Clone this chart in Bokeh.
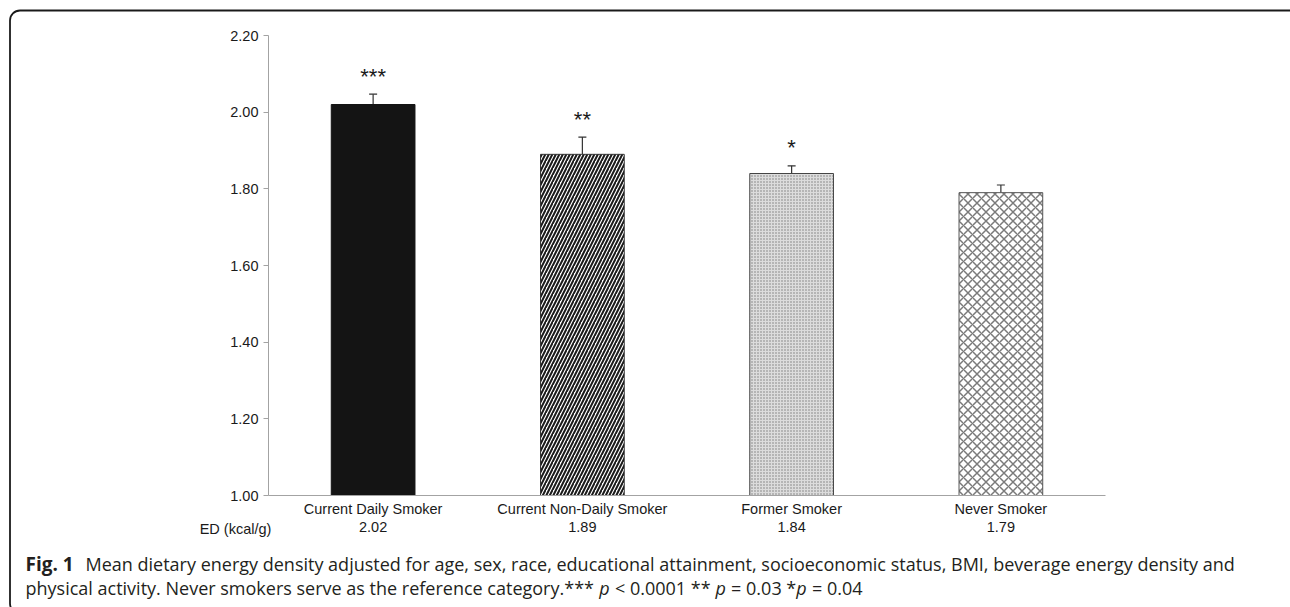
from bokeh.plotting import figure
from bokeh.models import (Range1d, FixedTicker, PrintfTickFormatter, LinearAxis,
                          ColumnDataSource, Whisker, TeeHead, Label, BoxAnnotation)
from bokeh.core.properties import value
from bokeh.embed import file_html
from bokeh.resources import INLINE

# ---------------- data ----------------
categories = ["Current Daily Smoker", "Current Non-Daily Smoker", "Former Smoker", "Never Smoker"]
ed_values = [2.02, 1.89, 1.84, 1.79]
se_values = [0.027, 0.045, 0.020, 0.020]
stars = ["***", "**", "*", ""]
y_ticks = [1.00, 1.20, 1.40, 1.60, 1.80, 2.00, 2.20]
row_title = "ED (kcal/g)"
caption_bold = "Fig. 1"
caption_line1 = ("Mean dietary energy density adjusted for age, sex, race, educational attainment, "
                 "socioeconomic status, BMI, beverage energy density and")
caption_line2 = [("physical activity. Never smokers serve as the reference category.***", "normal"),
                 ("p", "italic"), ("< 0.0001 **", "normal"), ("p", "italic"),
                 ("= 0.03 *", "normal"), ("p", "italic"), ("= 0.04", "normal")]
caption_gaps = [True, True, True, True, False, True]  # space before next segment

# ---------------- layout (page px) ----------------
W, H = 1290, 607
FL, FR, FT, FB = 268, 1105, 35, 495   # chart area edges in page px
Y0, Y1 = y_ticks[0], y_ticks[-1]
N = len(categories)
x_pos = [i + 0.5 for i in range(N)]

def xd(px):
    return (px - FL) / (FR - FL) * N

def yd(py):
    return Y0 + (FB - py) / (FB - FT) * (Y1 - Y0)

px_per_unit = (FB - FT) / (Y1 - Y0)

p = figure(width=W, height=H, output_backend="svg", toolbar_location=None,
           x_range=Range1d(xd(0), xd(W)), y_range=Range1d(yd(H), yd(0)),
           x_axis_location=None, y_axis_location=None, min_border=0)
p.outline_line_color = None
p.grid.visible = False
p.background_fill_color = "white"
p.border_fill_color = "white"

chart_font = "Liberation Sans"
axis_gray = "#a3a3a3"
text_col = "#1a1a1a"

# y axis
ya = LinearAxis(fixed_location=0, bounds=(Y0, Y1), ticker=FixedTicker(ticks=y_ticks),
                formatter=PrintfTickFormatter(format="%.2f"))
ya.axis_line_color = axis_gray
ya.major_tick_line_color = axis_gray
ya.major_tick_out = 5
ya.major_tick_in = 0
ya.minor_tick_line_color = None
ya.major_label_text_font = chart_font
ya.major_label_text_font_size = "14.5px"
ya.major_label_text_color = text_col
ya.major_label_standoff = 5
p.add_layout(ya, "left")

# x axis (categories)
xa = LinearAxis(fixed_location=Y0, bounds=(0, N), ticker=FixedTicker(ticks=x_pos),
                major_label_overrides={x: c for x, c in zip(x_pos, categories)})
xa.axis_line_color = axis_gray
xa.major_tick_line_color = None
xa.minor_tick_line_color = None
xa.major_tick_out = 0
xa.major_tick_in = 0
xa.major_label_text_font = chart_font
xa.major_label_text_font_size = "14.5px"
xa.major_label_text_color = text_col
xa.major_label_standoff = 5
p.add_layout(xa, "below")

# second row: ED values
ed_labels = [f"{v:.2f}" for v in ed_values]
xa2 = LinearAxis(fixed_location=Y0, bounds=(0, N), ticker=FixedTicker(ticks=x_pos),
                 major_label_overrides={x: t for x, t in zip(x_pos, ed_labels)})
xa2.axis_line_color = None
xa2.major_tick_line_color = None
xa2.minor_tick_line_color = None
xa2.major_tick_out = 0
xa2.major_tick_in = 0
xa2.major_label_text_font = chart_font
xa2.major_label_text_font_size = "14.5px"
xa2.major_label_text_color = text_col
xa2.major_label_standoff = 26
p.add_layout(xa2, "below")

# bars
bar_styles = [
    dict(fill_color="#141414", line_color="#141414", hatch_pattern=None),
    dict(fill_color="white", line_color="#333333", hatch_pattern="/", hatch_color="#1a1a1a",
         hatch_scale=7, hatch_weight=2.0),
    dict(fill_color="#dcdcdc", line_color="#444444", hatch_pattern="dot", hatch_color="#7a7a7a",
         hatch_scale=3, hatch_weight=1.0),
    dict(fill_color="white", line_color="#555555", hatch_pattern="x", hatch_color="#7a7a7a",
         hatch_scale=9, hatch_weight=1.5),
]
for xp, v, st in zip(x_pos, ed_values, bar_styles):
    p.vbar(x=[xp], top=[v], bottom=Y0, width=0.4, line_width=1, **st)

# error bars
upper = [v + e for v, e in zip(ed_values, se_values)]
src = ColumnDataSource(dict(x=x_pos, lower=ed_values, upper=upper))
p.add_layout(Whisker(source=src, base="x", lower="lower", upper="upper", dimension="height",
                     line_color="#333333", line_width=1.2,
                     upper_head=TeeHead(size=8, line_color="#333333", line_width=1.2),
                     lower_head=None))

# significance stars
star_y = [u + 18 / px_per_unit for u in upper]
p.text(x=x_pos, y=star_y, text=stars, text_align="center", text_baseline="alphabetic",
       text_font=value(chart_font), text_font_size="22px", text_color=text_col)

# row title
p.add_layout(Label(x=xd(235), y=yd(528), text=row_title, text_align="center",
                   text_baseline="middle", text_font=chart_font, text_font_size="14.5px",
                   text_color=text_col))

# caption
cap_font = "Open Sans"
cap_size = 18
cap_color = "#231f20"
em = {' ': .260, '.': .266, ',': .245, '*': .551, '<': .572, '=': .572,
      'a': .556, 'b': .613, 'c': .476, 'd': .613, 'e': .561, 'f': .339, 'g': .548, 'h': .614,
      'i': .253, 'j': .253, 'k': .525, 'l': .253, 'm': .930, 'n': .614, 'o': .604, 'p': .613,
      'q': .613, 'r': .408, 's': .477, 't': .353, 'u': .614, 'v': .501, 'w': .778, 'x': .524,
      'y': .502, 'z': .477, 'B': .635, 'I': .300, 'M': .905, 'N': .779, 'P': .609, 'F': .530}

def tw(s):
    return sum(em.get(c, .572) for c in s) * cap_size

L1, L2 = 563, 587
p.add_layout(Label(x=xd(25), y=yd(L1), text=caption_bold, text_align="left", text_baseline="middle",
                   text_font=cap_font, text_font_size="19px", text_font_style="bold",
                   text_color=cap_color))
p.add_layout(Label(x=xd(85), y=yd(L1), text=caption_line1, text_align="left", text_baseline="middle",
                   text_font=cap_font, text_font_size=f"{cap_size}px", text_color=cap_color))
xpos = 25
for i, (seg, style) in enumerate(caption_line2):
    p.add_layout(Label(x=xd(xpos), y=yd(L2), text=seg, text_align="left", text_baseline="middle",
                       text_font=cap_font, text_font_size=f"{cap_size}px", text_font_style=style,
                       text_color=cap_color))
    xpos += tw(seg)
    if i < len(caption_gaps) and caption_gaps[i]:
        xpos += tw(" ")

# panel frame (rounded border, only its top-left part falls inside the picture)
p.add_layout(BoxAnnotation(left=xd(9.5), right=xd(W + 9), top=yd(10), bottom=yd(H + 6),
                           fill_alpha=0, line_color="#1a1a1a", line_alpha=1.0, line_width=1.8,
                           border_radius=10, level="overlay"))

open("out.html", "w").write(file_html(p, INLINE))
